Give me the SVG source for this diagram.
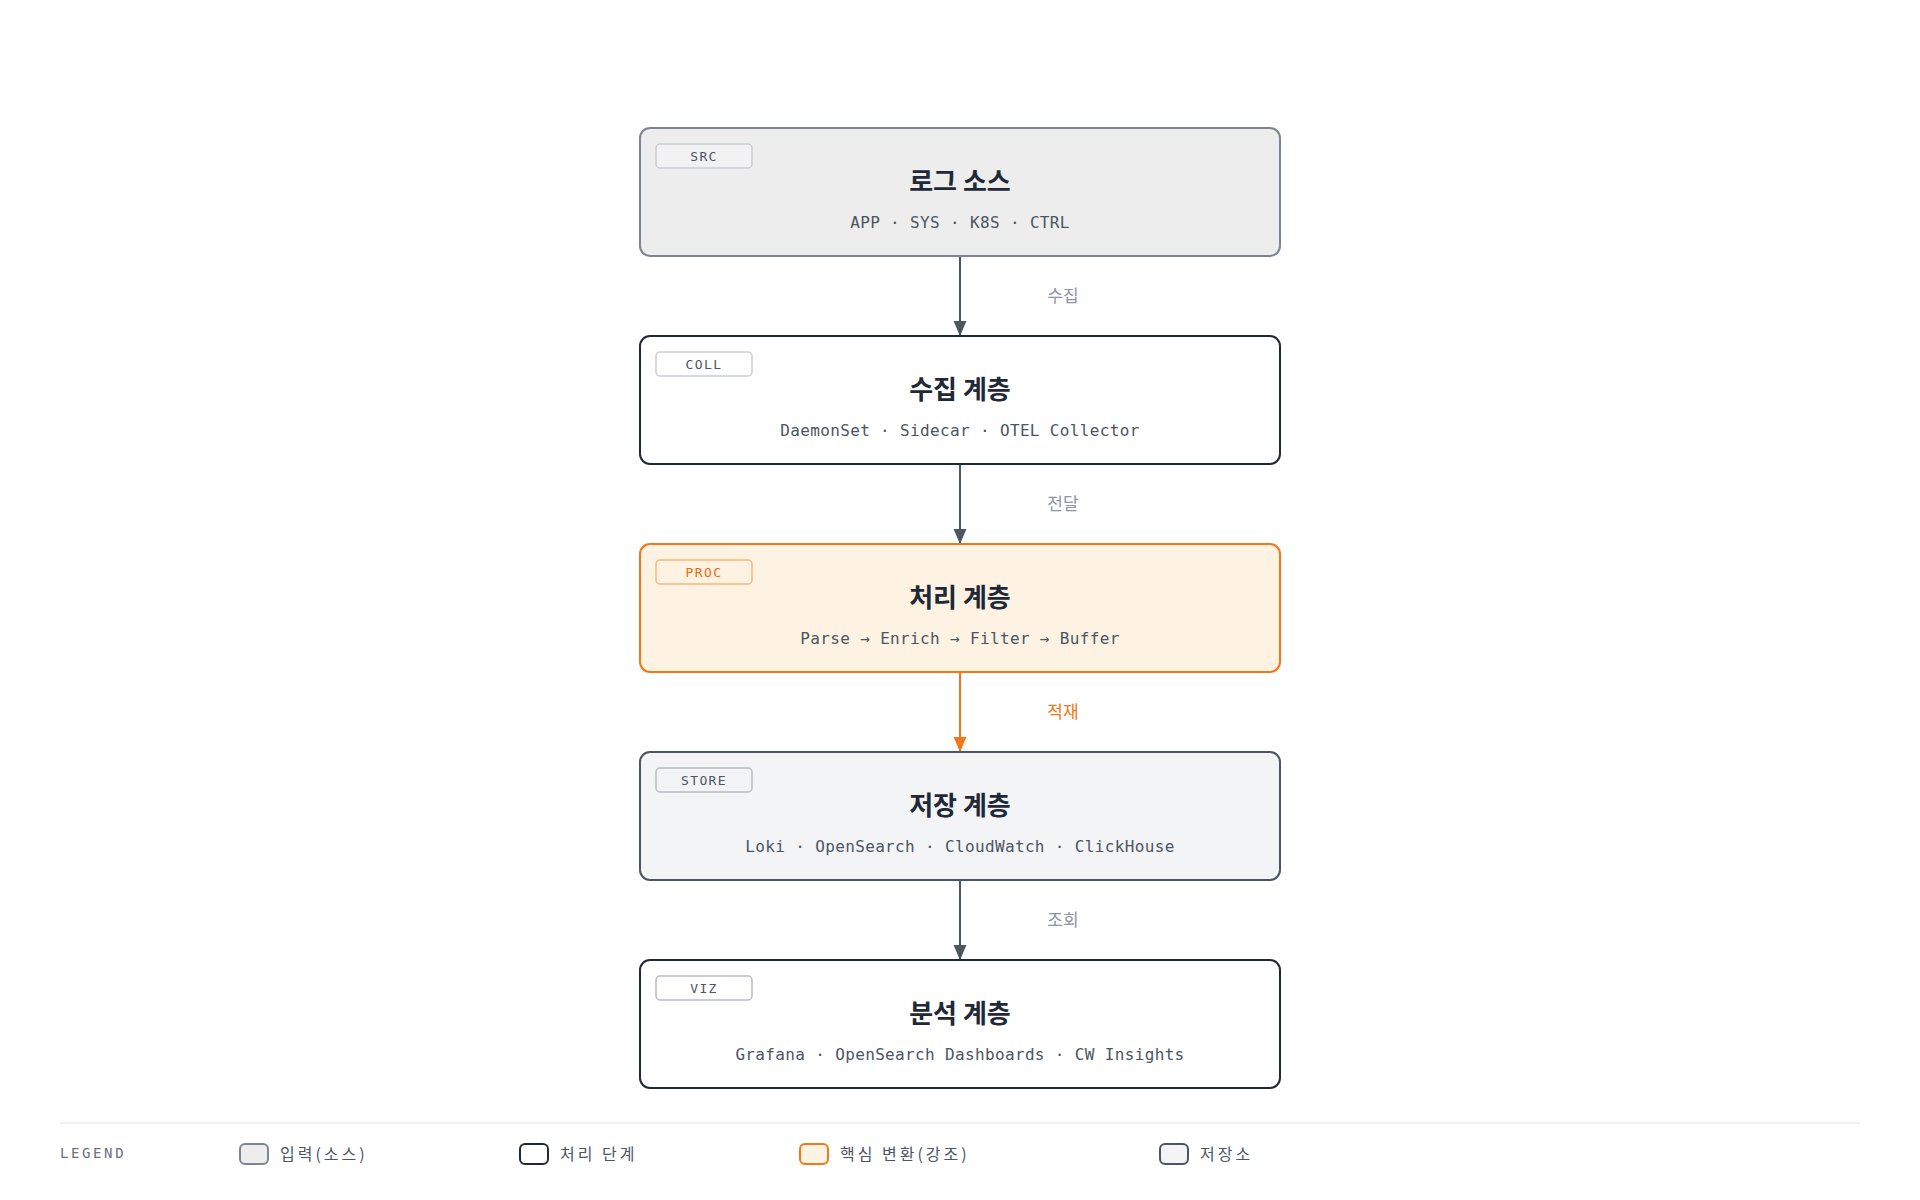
<svg xmlns="http://www.w3.org/2000/svg" width="1920" height="1200" viewBox="0 0 1920 1200">
  <style>
    .title { font-family: "Noto Sans CJK KR", "Noto Sans", sans-serif; font-size: 26px; font-weight: 700; fill: #1f2937; text-anchor: middle; }
    .sub { font-family: "DejaVu Sans Mono", "Liberation Mono", monospace; font-size: 16px; letter-spacing: 0.35px; fill: #4b5563; text-anchor: middle; }
    .badge { stroke-width: 1.5; }
    .badgetxt { font-family: "DejaVu Sans Mono", "Liberation Mono", monospace; font-size: 13px; letter-spacing: 1.4px; fill: #4b5563; text-anchor: middle; }
    .elabel { font-family: "Noto Sans CJK KR", "Noto Sans", sans-serif; font-size: 17px; fill: #8b95a5; text-anchor: middle; }
    .conn { stroke: #4b5563; stroke-width: 2; fill: none; }
    .legtxt { font-family: "Noto Sans CJK KR", "Noto Sans", sans-serif; font-size: 16px; letter-spacing: 3px; fill: #4b5563; }
  </style>
  <defs>
    <marker id="arr" markerUnits="userSpaceOnUse" markerWidth="16" markerHeight="14" refX="15" refY="7" orient="auto" viewBox="0 0 16 14">
      <path d="M0,0.5 L15,7 L0,13.5 z" fill="#4b5563"/>
    </marker>
    <marker id="arrO" markerUnits="userSpaceOnUse" markerWidth="16" markerHeight="14" refX="15" refY="7" orient="auto" viewBox="0 0 16 14">
      <path d="M0,0.5 L15,7 L0,13.5 z" fill="#f07818"/>
    </marker>
  </defs>
  <rect width="1920" height="1200" fill="#ffffff"/>

  <g id="connectors">
    <line class="conn" x1="960" y1="257" x2="960" y2="336" marker-end="url(#arr)"/>
    <text class="elabel" x="1063" y="302">수집</text>
    <line class="conn" x1="960" y1="465" x2="960" y2="544" marker-end="url(#arr)"/>
    <text class="elabel" x="1063" y="510">전달</text>
    <line class="conn" x1="960" y1="673" x2="960" y2="752" marker-end="url(#arrO)" style="stroke:#f07818"/>
    <text class="elabel" x="1063" y="718" style="fill:#f07818">적재</text>
    <line class="conn" x1="960" y1="881" x2="960" y2="960" marker-end="url(#arr)"/>
    <text class="elabel" x="1063" y="926">조회</text>
  </g>

  <g id="node-src">
    <rect x="640" y="128" width="640" height="128" rx="10" fill="#ededed" stroke="#7d8595" stroke-width="2"/>
    <rect class="badge" x="656" y="144" width="96" height="24" rx="4" fill="#f2f2f2" stroke="#c9cdd3"/>
    <text class="badgetxt" x="704" y="160.5">SRC</text>
    <text class="title" x="960" y="191">로그 소스</text>
    <text class="sub" x="960" y="228">APP · SYS · K8S · CTRL</text>
  </g>

  <g id="node-coll">
    <rect x="640" y="336" width="640" height="128" rx="10" fill="#ffffff" stroke="#1f2937" stroke-width="2"/>
    <rect class="badge" x="656" y="352" width="96" height="24" rx="4" fill="#ffffff" stroke="#c9cdd3"/>
    <text class="badgetxt" x="704" y="368.5">COLL</text>
    <text class="title" x="960" y="399">수집 계층</text>
    <text class="sub" x="960" y="436">DaemonSet · Sidecar · OTEL Collector</text>
  </g>

  <g id="node-proc">
    <rect x="640" y="544" width="640" height="128" rx="10" fill="#fef3e2" stroke="#f07818" stroke-width="2"/>
    <rect class="badge" x="656" y="560" width="96" height="24" rx="4" fill="#fef3e2" stroke="#f7b77a"/>
    <text class="badgetxt" x="704" y="576.5" style="fill:#ea6c10">PROC</text>
    <text class="title" x="960" y="607">처리 계층</text>
    <text class="sub" x="960" y="644">Parse → Enrich → Filter → Buffer</text>
  </g>

  <g id="node-store">
    <rect x="640" y="752" width="640" height="128" rx="10" fill="#f3f4f6" stroke="#4b5563" stroke-width="2"/>
    <rect class="badge" x="656" y="768" width="96" height="24" rx="4" fill="#f3f4f6" stroke="#b8bcc4"/>
    <text class="badgetxt" x="704" y="784.5">STORE</text>
    <text class="title" x="960" y="815">저장 계층</text>
    <text class="sub" x="960" y="852">Loki · OpenSearch · CloudWatch · ClickHouse</text>
  </g>

  <g id="node-viz">
    <rect x="640" y="960" width="640" height="128" rx="10" fill="#ffffff" stroke="#1f2937" stroke-width="2"/>
    <rect class="badge" x="656" y="976" width="96" height="24" rx="4" fill="#ffffff" stroke="#b8bcc4"/>
    <text class="badgetxt" x="704" y="992.5">VIZ</text>
    <text class="title" x="960" y="1023">분석 계층</text>
    <text class="sub" x="960" y="1060">Grafana · OpenSearch Dashboards · CW Insights</text>
  </g>

  <g id="legend">
    <line x1="60" y1="1123" x2="1860" y2="1123" stroke="#ececec" stroke-width="1.5"/>
    <text x="60" y="1158" style="font-family:'DejaVu Sans Mono','Liberation Mono',monospace;font-size:14px;letter-spacing:2.6px;fill:#6b7280">LEGEND</text>
    <rect x="240" y="1144" width="28" height="20" rx="5" fill="#ededed" stroke="#7d8595" stroke-width="2"/>
    <text class="legtxt" x="280" y="1160">입력(소스)</text>
    <rect x="520" y="1144" width="28" height="20" rx="5" fill="#ffffff" stroke="#1f2937" stroke-width="2"/>
    <text class="legtxt" x="560" y="1160">처리 단계</text>
    <rect x="800" y="1144" width="28" height="20" rx="5" fill="#fef3e2" stroke="#f07818" stroke-width="2"/>
    <text class="legtxt" x="840" y="1160">핵심 변환(강조)</text>
    <rect x="1160" y="1144" width="28" height="20" rx="5" fill="#f3f4f6" stroke="#4b5563" stroke-width="2"/>
    <text class="legtxt" x="1200" y="1160">저장소</text>
  </g>
</svg>
